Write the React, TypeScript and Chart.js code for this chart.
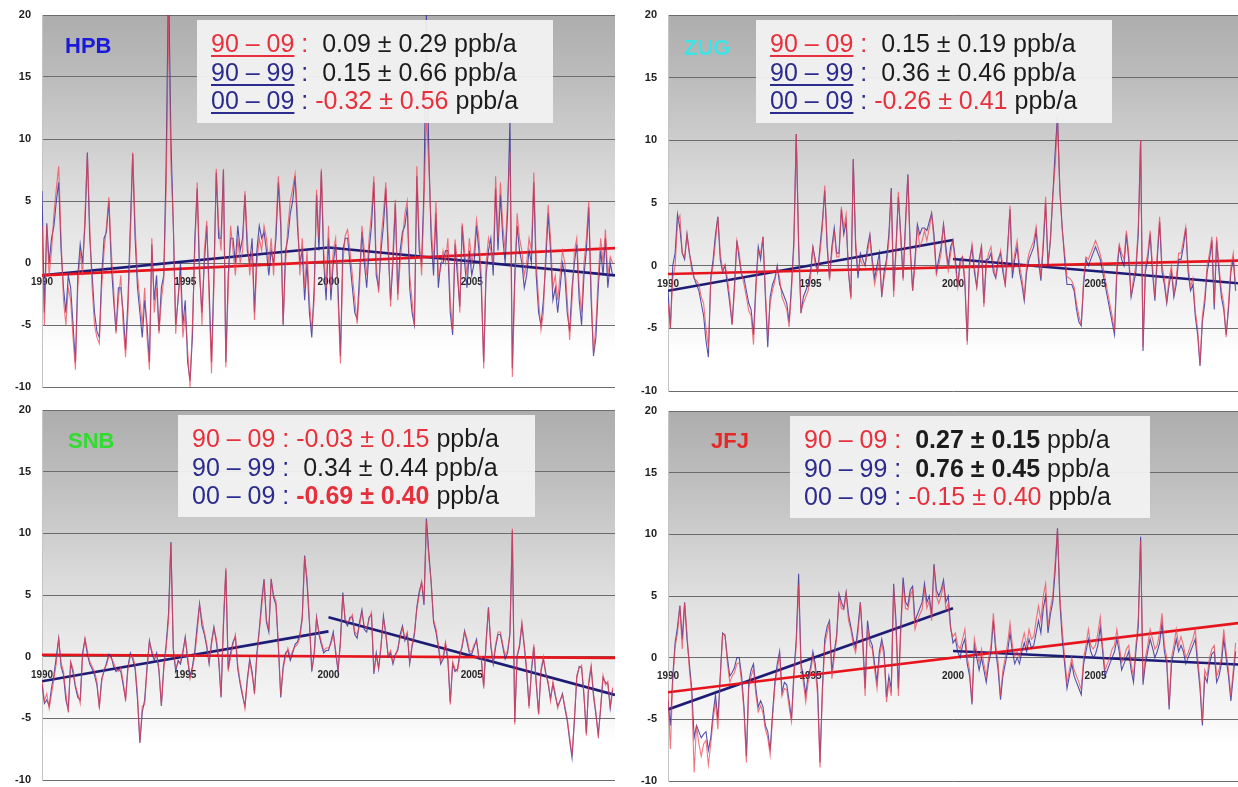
import React, { useEffect, useRef } from "react";
import { Chart, registerables } from "chart.js";

Chart.register(...registerables);

// ---------- data: monthly anomalies (ppb), Jan 1990 .. Dec 2009 ----------
const START_YEAR = 1990;
const END_YEAR = 2010;
const SPLIT_YEAR = 2000;
const X_TICK_YEARS = [1990, 1995, 2000, 2005];
const Y_MIN = -10;
const Y_MAX = 20;
const Y_STEP = 5;

const HPB_RED = [
  3, -5, 3, -1, 1, 4, 6, 7.8, 2, -3, -5, -2,
  -3, -6, -8.6, -2, 1, -1, 4, 8.8, 3, -2, -5, -6,
  -6.5, -2, 1, 3, 5.3, 1, -2, -5.7, -3, -1, -5, -7.6,
  -4, 2, 8.9, 3, -1, -3, -5, -2, -6, -8.6, 2, -4,
  -2, -5.7, -3, -1.3, 6, 20, 8, 3.2, -5.7, -2.7, -1, -6,
  -4, -7, -10, -5, 1, 6.5, 0, -5, 1, 3.4, -3, -8.9,
  -2, 7.6, 3, 1, 7.6, -8.4, -2, 3, 1, -1, 2, 0,
  1, 5.8, 2, -1, 1, -4.6, 0, 2, 1, 3, 2, 0,
  2, -1, 3, 7, 4, -4.9, 0, 3, 5, 6, 7.2, 4,
  -1, 2, -2, 1, -3, -5.4, -3, 5.9, 2, 7.6, 1, -2,
  3, -2.2, 1, 2, -3, -8.1, 0, 2.2, 2.7, 1, -1, -3,
  -4.9, -2, 3, 1, -1, 2, 4, 7, 0, -2.4, 2, 4,
  6.5, 2, -3.5, 1, 5.1, -3, 0, 2, 4, 5, -1, -3,
  -5.1, 7.8, 2, -1, 5, 12, 8, 3, 0, 5, -1, -0.5,
  1, 0, 2, -3, -5.4, 1.9, 0, -4, 3.2, 1, -1, 2,
  0, 1, 3.5, 2, -1, -8.5, 0, 2, 1, 0, 7, 2,
  6.5, 3, 1, 5, 9, -9.2, -2, 4, 2, 1, -1, 0,
  2, 1, 7.3, 0, -3, -5.4, -4, 1, 4.7, 2, -2, -1,
  -3, -1, 1, 0, -3, -6.2, -3, 1, 2, -2, -4, 0,
  2, 5, -2, -7.3, -5, -1, 2, 0, 2.7, -1, 0.5, 0,
];
const HPB_BLUE = [
  5.8, -4, 3.2, 0, 2, 3, 5, 6.5, 1, -2, -4, -1,
  -2, -5, -8, -1, 1.5, 0, 3, 8.9, 2, -1, -4, -5.5,
  -6, -1, 2, 2.5, 5, 0, -3, -5.5, -2, -2, -4, -7,
  -3, 3, 8.8, 2, -2, -4, -6, -3, -5, -8, 1.5, -3,
  -1, -5.5, -2, -1, 8, 23, 10, 3, -5, -3, 0, -5,
  -3, -8, -9.5, -6, 2, 6, -1, -4, 0, 3, -2, -8,
  -1, 7.3, 2, 2, 7.5, -8, -1, 2, 2, 0, 3, 1,
  2, 5.5, 1, 0, 2, -4, 1, 3, 2, 2.5, 1, -1,
  1, 0, 2, 6.5, 3, -5, 1, 2, 4, 5, 7, 3,
  0, 1, -3, 0, -4, -6, -2, 5.5, 1, 7.4, 0, -3,
  2, -3, 0, 1.5, -2, -7.5, 1, 2, 2, 0, -2, -4,
  -4.5, -1, 2.5, 0, -2, 1, 3, 6.5, -1, -2, 1, 3,
  6, 1, -3, 0, 4.8, -2.5, 1, 2.5, 3, 4.5, -2, -4,
  -5, 7, 1, 0, 6, 20, 9, 2, -1, 4, -2, 0,
  0, 1, 1, -4, -5.8, 1.5, -1, -3.5, 3, 0, -2, 1,
  -1, 0, 3, 1, -2, -8, -1, 1, 2, -1, 6, 1,
  5.5, 2, 0, 4, 11.5, -8.5, -1, 3, 1, 0, -2, -1,
  1, 0, 6.5, -1, -4, -5, -3, 0, 4, 1, -3, -2,
  -4, -2, 0, -1, -4, -5.5, -2, 0, 1.5, -3, -5, -1,
  1, 4.5, -3, -7.5, -6, -2, 1, -1, 2, -2, 0, -1,
];

const ZUG_RED = [
  -3, -5, -1, 0, 3.5, 4, 1, 0.7, 2.5, 1, -0.4, -1,
  -1.2, -1.5, -2.5, -3, -5, -6.5, -1.2, 0, 2, 3.9, 1, -0.4,
  0.1, -1, -2.5, -4.7, -2, 2, 1, -0.7, -1.5, -2.5, -3.6, -4,
  -6.3, -2, 1.2, 1, 2.3, -2, -5.7, -3, -2, -1.2, -0.1, -1,
  -2.5, -3, -3.5, -4.9, -2, 1.5, 10.5, 2, -3.6, -3, -2.5, -2,
  -1, 1.6, 0, -0.4, 1, 3, 6.4, 2, -1.2, 1, 2.8, 0.7,
  0.7, 4.7, 3, 4.1, -0.5, -2.7, 8.4, 2, -0.4, 0.5, 0, 0.1,
  1, 2.3, 0, -1.5, -0.5, 0.4, -2.3, -1, 0.1, 2, 6, -2.5,
  1, 5.9, 2, -1.2, 3, 7.2, 1, -2, 0, 3.1, 1.5, 2,
  2.8, 2, 3, 4.1, 2, -0.7, 0, 1, 3.3, 1, -0.4, 1,
  2, 0, -1.7, 0, 0.7, -1, -6.3, 0, 1.7, 0, -1.7, 0,
  1.7, -3.3, 0, 1, 1.5, 0, -0.9, 0, 1.2, 0, -1.7, 1,
  4.8, -0.4, 1, 2, 0, -1, -2.5, 0, 1, 1.5, 2, 3.1,
  1, -0.9, 2, 5.5, 0.1, 2, 5.5, 8, 11.5, 6, 2.8, 1,
  -0.9, -1, -1.2, -1.7, -3, -4, -4.7, -1, 0.7, 0.5, 1, 1.5,
  2, 1.5, 0.9, 0.1, -1, -2, -3, -4, -5.2, 0, 1.7, 1,
  0.5, 2.8, 1, -2.5, -1, 0, 3, 10, -6.5, 0, 1, 2.8,
  0, -2.5, 1, 3.9, 0, -1, -2.8, -1, 0, -2.3, -1, 1,
  1, 2, 3.1, 0, -1.7, -1, -3.6, -5, -7.9, -4, -2.5, 0,
  1, 2.3, -3.1, 2.3, 0, -2, -3, -5.7, -3, -0.1, 1, -1.7,
];
const ZUG_BLUE = [
  -2, -5, 0, 1, 4.1, 3, 1, 0.5, 2.5, 1, 0, -1,
  -1.5, -2, -3, -4, -6, -7.3, -1, 0.5, 2.5, 3.9, 0.5, -0.5,
  0, -1.5, -3, -4.7, -1.5, 2, 0.5, -0.7, -1, -2, -3, -3.5,
  -5.5, -1.5, 1.5, 0.5, 2.3, -2.5, -6.5, -2.5, -1.5, -1, 0, -1.5,
  -2, -2.5, -3, -4.5, -1.5, 2, 10.5, 1.5, -3.8, -2.5, -2, -1.5,
  -0.5, 1.5, 0.5, -0.5, 1.5, 3.5, 6, 1.5, -1, 1.5, 3, 1,
  1, 4.5, 2.5, 3.5, -0.5, -2.5, 8.5, 1.5, -1, 1, 0.5, 0,
  1.5, 2.5, 0.5, -1, 0, 1, -2.5, -0.5, 0.5, 2.5, 6.2, -2,
  1.5, 5.5, 2.5, -1, 3.5, 7.3, 1.5, -2, 0.5, 3.3, 2.5, 3,
  3, 2.8, 3.5, 4.2, 2.5, -0.5, 0.5, 1.5, 3.3, 1.5, 0, 1.5,
  2, 0.5, -1.7, 0.5, 0.7, -1.5, -6, 0.5, 1.5, -0.5, -1.7, 0.5,
  1.5, -3, 0.5, 0.5, 1, -0.5, -1, 0.5, 1, -0.5, -1.5, 1.5,
  4.5, -1, 0.5, 1.5, -0.5, -1.5, -2.8, -0.5, 0.5, 1, 1.5, 2.8,
  0.5, -1.2, 1.5, 5, 0, 2, 5.5, 9, 12, 6, 3, 0.5,
  -1.5, -1.5, -1.5, -2, -3.5, -4.5, -4.8, -1.5, 0.5, 0, 0.5, 1,
  1.5, 1, 0.5, -0.5, -1.5, -2.5, -3.5, -4.5, -5.5, -0.5, 1.5, 0.5,
  0, 2.5, 0.5, -2.5, -1.5, -0.5, 2.5, 10, -6.8, -0.5, 0.5, 2.5,
  -0.5, -2.8, 0.5, 3.5, -0.5, -1.5, -3, -1.5, -0.5, -2.5, -1.5, 0.5,
  0.5, 1.5, 3, -0.5, -2, -1.5, -4, -5.5, -8, -4.5, -3, -0.5,
  0.5, 2, -3.5, 2, -0.5, -2.5, -3.5, -5.5, -3.5, -0.5, 0.5, -2,
];

const SNB_RED = [
  -2, -3.6, -3, -4.2, -3, -1.8, -0.5, 1.4, -0.5, -1.2, -3, -4.5,
  -0.4, -1, -2.3, -3, -3.8, 0, 1.5, 0.5, -0.4, -0.8, -1.2, -2,
  -4.2, -2, -1, -0.7, 0, -0.1, -0.5, -1, -1.2, -0.9, -2, -3.6,
  -1, 0.1, 0, -0.7, -3, -6.9, -4, -3.9, -1, 1.2, 0.5, 0,
  0.1, -1, -3.9, -1, 0.7, 3, 9.2, 0.7, -0.9, -0.5, -0.4, 0.5,
  1.5, 0, -1.8, -1, 0.1, 2, 4.2, 3, 2, 1, -0.4, 1,
  2.3, 1.5, 0, -3.2, 3, 7.2, -1.2, 0, 1, 1.8, -0.7, -2,
  -3, -4.2, -2, -0.4, -1.5, -2.8, 0, 2, 4, 6.2, 3, 2.3,
  6.1, 5, 4.5, 1, -3.1, -1, 0, 0.7, 0, 0.5, 0.8, 1,
  1.5, 3, 8.1, 6.4, 3, -1, 0, 3.1, 2, 1.2, 0.5, 0.7,
  0.7, 1, 1.8, 0.5, -1, 1, 5, 3, 2.8, 3, 3.4, 2,
  1.8, 2.5, 3.6, 2.5, 2.3, 3, 3.6, -1.2, 0, -0.9, 1, 3.1,
  2, 0.1, 0.5, -0.4, 0, 0.7, 1.5, 2.3, 1.5, 2, -0.4, 1,
  2, 3.9, 5, 6.1, 4.5, 11, 8, 6.1, 3, 2.3, 1, -0.4,
  0, 1.2, 0, -3.9, -0.4, -1, -1.2, 0, 1, 2, 1.5, 0.5,
  0.4, 1, 1.2, 0, 0, -2.6, 1, 3.9, 1, -0.4, 1, 2,
  2, 1, 0.1, 0.5, 2, 10.4, -5.5, 0.1, 1, 2.8, 1, -1,
  -4.2, -1, 1, -2, -4.7, -1, 0, -1.5, -2, -3.6, -2, -3,
  -4.2, -3.5, -3.1, -4, -5, -6.5, -8, -5, -1.5, -0.9, -0.7, -3,
  -6.4, -2, -0.7, -3, -4.5, -6.6, -4, -1.5, -2.3, -2, -4, -2.5,
];
const SNB_BLUE = [
  -2.2, -3.8, -3.5, -4, -2.5, -1.5, 0, 1.5, -0.8, -1.5, -3.5, -4.3,
  -0.5, -1.3, -2.5, -3.3, -3.5, 0.3, 1.4, 0.2, -0.6, -1, -1.5, -2.3,
  -4, -1.8, -1.2, -0.5, 0.2, 0, -0.8, -1.2, -1, -1.2, -2.3, -3.4,
  -0.8, 0.3, -0.2, -1, -3.5, -7, -4.5, -3.5, -0.8, 1.3, 0.3, -0.3,
  0.3, -1.2, -4, -0.8, 1, 3.5, 9.3, 0.5, -1.2, -0.3, -0.6, 0.3,
  1.6, -0.3, -1.6, -0.8, 0.5, 2.5, 4.3, 2.5, 1.8, 0.8, -0.6, 1.2,
  2.4, 1.2, -0.3, -3.3, 2.5, 7, -1, 0.3, 1.2, 1.6, -1, -2.2,
  -3.2, -4, -1.8, -0.2, -1.2, -3, 0.3, 2.2, 4.5, 6.3, 2.8, 2,
  6.3, 4.8, 4.2, 0.8, -3.3, -0.8, 0.3, 0.5, -0.3, 0.3, 1, 1.2,
  1.8, 3.2, 8.2, 6, 2.8, -1.2, 0.3, 3.2, 1.8, 1, 0.3, 0.5,
  0.5, 1.2, 2, 0.3, -1.2, 1.3, 5.2, 2.8, 2.5, 3.2, 3.2, 1.8,
  1.5, 2.8, 3.8, 2.2, 2, 3.2, 3.4, -1.4, 0.3, -1, 0.8, 3.3,
  1.8, 0, 0.3, -0.6, 0.2, 0.5, 1.8, 2.5, 1.3, 1.8, -0.6, 0.8,
  1.8, 4, 5.3, 6, 4.2, 11.2, 8.5, 6, 2.8, 2, 0.8, -0.6,
  -0.2, 1, -0.3, -3.7, -0.6, -1.2, -1, 0.2, 0.8, 2.1, 1.2, 0.3,
  0.2, 0.8, 1.4, -0.2, -0.2, -2.4, 1.2, 4, 0.8, -0.6, 0.8, 1.8,
  1.8, 0.8, -0.2, 0.3, 1.8, 10.2, -5.3, 0, 0.8, 2.6, 0.8, -1.2,
  -4, -1.2, 0.8, -2.2, -4.6, -1.2, -0.2, -1.3, -2.2, -3.4, -2.2, -3.2,
  -4, -3.6, -3, -4.2, -5.2, -6.8, -8.2, -5.2, -1.7, -0.8, -0.9, -3.2,
  -6.2, -2.2, -0.9, -3.2, -4.7, -6.3, -4.2, -1.7, -2.1, -2.2, -4.2, -2.7,
];

const JFJ_RED = [
  -2.8, -7.4, -2, 0.9, 2, 4.2, 0.7, 4.4, 2, -1, -3, -9.3,
  -5.5, -7, -8, -7, -6.7, -8.7, -7, -5, -3.6, -5.8, -1.7, 1.9,
  1.9, -0.4, -2, -1.5, -1.2, -0.5, -0.4, -2, -4.4, -8.5, -2.5, -1.5,
  -0.9, -3, -4.4, -3.9, -4.5, -5.8, -6.5, -7.9, -5, -2.3, -1, 0.3,
  -3.1, -2.5, -2.6, -4, -5.2, -1.7, 1, 5.9, -1, -2, -3.6, -2,
  -1.2, 0.1, -1, -3.1, -8.9, -3, 1, 2, 2.8, -1.7, 0, 1.5,
  5, 4, 3.9, 5.2, 3, 2.3, 1, 0.4, 2, 4.4, 1, -3.1,
  2.5, 1, 0.7, -1, -2.5, 0, 1.2, 0, -3.6, -2, -3.1, 5.8,
  2.3, -3.1, 2, 6, 4, 3.9, 5, 5.5, 2.3, 3, 3.5, 3.9,
  5.5, 4, 4.6, 3, 7.4, 5, 4.4, 5, 6, 3.9, 4.4, 2.3,
  1.7, 2, 1, 0.7, 1.5, 2.3, 0, -1, -3.6, 1.5, 0.5, -0.4,
  0.7, -0.5, -1.5, 0, 1, 3.6, 1, -0.4, -3.1, -1, 0, 1.2,
  2.8, 1, 0.1, 0.5, 0, 1.2, 2, 1, 2.3, 1.5, 1.7, 3,
  4.2, 3, 5, 6, 2.5, 4, 5, 7.7, 10.4, 5, 2.3, 0,
  -2, -1, 0, -1, -1.5, -2, -2.6, 0, 1, 2.3, 1, 0.7,
  1, 2, 3.3, 1, -1, -0.5, 0, 0.7, 1, 2.3, 1, -0.4,
  0, 0.7, 1, -0.5, -1.5, 1, 3, 9.5, -1.7, 0, 1, 2.3,
  1.5, 0.7, 1, 2, 3.6, 1, 0, -3.9, 0, 1, 2.3, 1,
  1.7, 1, 0, 0.4, 1, 1.5, 2.3, 0, -2, -5.2, -1, -1.5,
  0, 0.7, 1, -1.5, -1, 0, 2.3, 0.5, -1, -3.1, -1, 1.2,
];
const JFJ_BLUE = [
  -3.5, -5.5, -1.5, 1.2, 2.5, 4.2, 1.5, 4.5, 1.5, -0.5, -2.5, -6.5,
  -5.5, -6, -6.5, -6.2, -6, -7.5, -6.5, -4.5, -3, -5, -1.5, 2,
  1.8, 0, -1.5, -1.2, -0.8, 0, 0, -1.5, -4, -8, -2, -1,
  -0.5, -2.5, -4, -3.5, -4, -5.5, -6, -7.5, -4.5, -2, -0.5, 0.5,
  -2.8, -2, -2.2, -3.5, -5, -1.2, 1.5, 6.8, -0.5, -1.5, -3, -1.5,
  -0.8, 0.5, -0.5, -2.5, -8.5, -2.5, 1.5, 2.5, 3, -1.2, 0.5, 1.8,
  5.2, 4.5, 4, 5.3, 3.5, 2.5, 1.5, 0.8, 2.5, 4.5, 1.5, -2.5,
  3, 1.5, 1, -0.5, -2, 0.5, 1.5, 0.5, -3.2, -1.5, -2.5, 6,
  3, -2.5, 2.5, 6.5, 4.5, 4.2, 5.5, 5.8, 3, 3.5, 4, 4.5,
  6, 4.5, 5, 3.5, 7.6, 5.5, 5, 5.5, 6.3, 4.5, 5, 2.5,
  1.2, 1.5, 0.5, 0, 1, 1.5, -0.5, -1.5, -3.8, 1, 0, -1,
  0, -1, -2, -0.5, 0.5, 3, 0.5, -1, -3.4, -1.5, -0.5, 0.5,
  2, 0.5, -0.5, 0, -0.5, 0.5, 1.2, 0.5, 1.5, 0.8, 1, 2,
  3, 2, 4, 5, 2, 3.5, 4.5, 7, 10.5, 4.5, 1.5, -0.5,
  -2.5, -1.5, -0.5, -1.5, -2, -2.5, -3, -0.5, 0.5, 1.5, 0.5, 0,
  0.3, 1, 2.5, 0.5, -1.5, -1, -0.5, 0, 0.5, 1.5, 0.5, -1,
  -0.5, 0, 0.5, -1, -2, 0.5, 2.5, 9.8, -2.2, -0.5, 0.5, 1.5,
  0.8, 0, 0.5, 1.2, 2.8, 0.5, -0.5, -4.2, -0.5, 0.5, 1.5, 0.5,
  1, 0.5, -0.5, 0, 0.5, 1, 1.5, -0.5, -2.5, -5.5, -1.5, -2,
  -0.5, 0.3, 0.5, -2, -1.5, -0.5, 1.5, 0, -1.5, -3.5, -1.5, 0.5,
];

// trend lines: [value at start, value at end]
const HPB_TREND_ALL = [-1.0, 1.2];
const HPB_TREND_90S = [-1.0, 1.25];
const HPB_TREND_00S = [1.25, -1.0];
const ZUG_TREND_ALL = [-0.67, 0.4];
const ZUG_TREND_90S = [-2.0, 2.05];
const ZUG_TREND_00S = [0.53, -1.4];
const SNB_TREND_ALL = [0.15, -0.1];
const SNB_TREND_90S = [-2.0, 2.05];
const SNB_TREND_00S = [3.2, -3.1];
const JFJ_TREND_ALL = [-2.8, 2.8];
const JFJ_TREND_90S = [-4.2, 4.0];
const JFJ_TREND_00S = [0.54, -0.55];

// ---------- styling ----------
const FONT = '"Liberation Sans", Arial, Helvetica, sans-serif';
const C_RED_TXT = "#e8303c";
const C_BLUE_TXT = "#2b2b8e";
const C_BLACK_TXT = "#1c1c1c";

const bgPlugin = {
  id: "panelBg",
  beforeDraw(chart: any) {
    const { ctx, chartArea: a } = chart;
    if (!a) return;
    const g = ctx.createLinearGradient(0, a.top, 0, a.bottom);
    g.addColorStop(0, "#adadad");
    g.addColorStop(0.17, "#bcbcbc");
    g.addColorStop(0.34, "#cecece");
    g.addColorStop(0.5, "#dfdfdf");
    g.addColorStop(0.67, "#ececec");
    g.addColorStop(0.83, "#f7f7f7");
    g.addColorStop(0.9, "#ffffff");
    g.addColorStop(1, "#ffffff");
    ctx.save();
    ctx.fillStyle = g;
    ctx.fillRect(a.left, a.top, a.right - a.left, a.bottom - a.top);
    ctx.restore();
  },
};

type PanelSpec = {
  left: number;
  top: number;
  width: number;
  height: number;
  axisW: number;
  pad: { top: number; right: number; bottom: number; left: number };
  red: number[];
  blue: number[];
  trendAll: number[];
  trend90: number[];
  trend00: number[];
};

function toPoints(arr: number[]) {
  return arr.map((v, i) => ({ x: START_YEAR + i / 12, y: v }));
}

function zeroPadding(scale: any) {
  scale.paddingTop = 0;
  scale.paddingBottom = 0;
  scale.paddingLeft = 0;
  scale.paddingRight = 0;
}

function Panel({ spec }: { spec: PanelSpec }) {
  const ref = useRef<HTMLCanvasElement | null>(null);
  useEffect(() => {
    if (!ref.current) return;
    const tickFont = { family: FONT, size: 11, weight: "bold" as const };
    const chart = new Chart(ref.current, {
      type: "line",
      data: {
        datasets: [
          {
            data: toPoints(spec.red),
            borderColor: "rgba(240,64,80,0.72)",
            borderWidth: 1.1,
            pointRadius: 0,
            tension: 0,
          },
          {
            data: toPoints(spec.blue),
            borderColor: "rgba(46,40,148,0.8)",
            borderWidth: 1.1,
            pointRadius: 0,
            tension: 0,
          },
          {
            data: [
              { x: START_YEAR, y: spec.trendAll[0] },
              { x: END_YEAR, y: spec.trendAll[1] },
            ],
            borderColor: "#e8141c",
            borderWidth: 2.6,
            pointRadius: 0,
          },
          {
            data: [
              { x: START_YEAR, y: spec.trend90[0] },
              { x: SPLIT_YEAR, y: spec.trend90[1] },
            ],
            borderColor: "#1c1c76",
            borderWidth: 2.6,
            pointRadius: 0,
          },
          {
            data: [
              { x: SPLIT_YEAR, y: spec.trend00[0] },
              { x: END_YEAR, y: spec.trend00[1] },
            ],
            borderColor: "#1c1c76",
            borderWidth: 2.6,
            pointRadius: 0,
          },
        ],
      },
      options: {
        animation: false,
        responsive: false,
        maintainAspectRatio: false,
        layout: { padding: spec.pad },
        plugins: { legend: { display: false }, tooltip: { enabled: false } },
        scales: {
          x: {
            type: "linear",
            min: START_YEAR,
            max: END_YEAR,
            position: { y: 0 } as any,
            grid: { display: false, drawTicks: false },
            border: { display: false },
            afterBuildTicks: (scale: any) => {
              scale.ticks = X_TICK_YEARS.map((v) => ({ value: v }));
            },
            afterFit: zeroPadding,
            ticks: {
              autoSkip: false,
              maxRotation: 0,
              padding: 13,
              color: "#262626",
              font: { family: FONT, size: 10, weight: "bold" as const },
              callback: (v: any) => String(v),
            },
          },
          y: {
            min: Y_MIN,
            max: Y_MAX,
            afterFit: (scale: any) => {
              scale.width = spec.axisW;
              zeroPadding(scale);
            },
            ticks: {
              stepSize: Y_STEP,
              padding: 11,
              color: "#1e1e1e",
              font: tickFont,
            },
            grid: { color: "#6c6c6c", lineWidth: 1, drawTicks: false },
            border: { display: true, color: "#c4c4c4", width: 1 },
          },
        },
      },
      plugins: [bgPlugin],
    } as any);
    return () => chart.destroy();
  }, [spec]);
  return (
    <div
      style={{
        position: "absolute",
        left: spec.left,
        top: spec.top,
        width: spec.width,
        height: spec.height,
      }}
    >
      <canvas ref={ref} width={spec.width} height={spec.height} style={{ width: spec.width, height: spec.height, display: "block" }} />
    </div>
  );
}

type Seg = { t: string; c: string; b?: boolean; u?: boolean };

function Box({ left, top, width, height, lines }: { left: number; top: number; width: number; height: number; lines: Seg[][] }) {
  return (
    <div
      style={{
        position: "absolute",
        left,
        top,
        width,
        height,
        background: "rgba(243,243,243,0.93)",
        boxSizing: "border-box",
        paddingTop: 9,
        paddingLeft: 14,
        fontFamily: FONT,
        fontSize: 25,
        lineHeight: "28.5px",
        whiteSpace: "pre",
      }}
    >
      {lines.map((ln, i) => (
        <div key={i}>
          {ln.map((s, j) => (
            <span
              key={j}
              style={{
                color: s.c,
                fontWeight: s.b ? "bold" : "normal",
                textDecoration: s.u ? "underline" : "none",
                textDecorationThickness: s.u ? "2px" : undefined,
                textUnderlineOffset: s.u ? "3px" : undefined,
              }}
            >
              {s.t}
            </span>
          ))}
        </div>
      ))}
    </div>
  );
}

function Station({ text, color, left, top }: { text: string; color: string; left: number; top: number }) {
  return (
    <div
      style={{
        position: "absolute",
        left,
        top,
        fontFamily: FONT,
        fontWeight: "bold",
        fontSize: 22,
        lineHeight: 1,
        color,
      }}
    >
      {text}
    </div>
  );
}

const PANELS: PanelSpec[] = [
  { left: 0, top: 0, width: 620, height: 395, axisW: 42, pad: { top: 15, right: 5, bottom: 8, left: 0 }, red: HPB_RED, blue: HPB_BLUE, trendAll: HPB_TREND_ALL, trend90: HPB_TREND_90S, trend00: HPB_TREND_00S },
  { left: 620, top: 0, width: 618, height: 395, axisW: 48, pad: { top: 15, right: 0, bottom: 4, left: 0 }, red: ZUG_RED, blue: ZUG_BLUE, trendAll: ZUG_TREND_ALL, trend90: ZUG_TREND_90S, trend00: ZUG_TREND_00S },
  { left: 0, top: 395, width: 620, height: 392, axisW: 42, pad: { top: 15, right: 5, bottom: 7, left: 0 }, red: SNB_RED, blue: SNB_BLUE, trendAll: SNB_TREND_ALL, trend90: SNB_TREND_90S, trend00: SNB_TREND_00S },
  { left: 620, top: 395, width: 618, height: 392, axisW: 48, pad: { top: 16, right: 0, bottom: 6, left: 0 }, red: JFJ_RED, blue: JFJ_BLUE, trendAll: JFJ_TREND_ALL, trend90: JFJ_TREND_90S, trend00: JFJ_TREND_00S },
];

export default function App() {
  const R = C_RED_TXT;
  const B = C_BLUE_TXT;
  const K = C_BLACK_TXT;
  return (
    <div style={{ position: "fixed", left: 0, top: 0, width: 1238, height: 787, overflow: "hidden", background: "#ffffff" }}>
      {PANELS.map((p, i) => (
        <Panel key={i} spec={p} />
      ))}

      <Station text="HPB" color="#1a1ad8" left={65} top={35} />
      <Station text="ZUG" color="#3fe3e3" left={684} top={37} />
      <Station text="SNB" color="#2fdc2f" left={68} top={430} />
      <Station text="JFJ" color="#e42828" left={711} top={430} />

      <Box
        left={197}
        top={20}
        width={356}
        height={103}
        lines={[
          [{ t: "90 – 09", c: R, u: true }, { t: " :  ", c: R }, { t: "0.09 ± 0.29 ppb/a", c: K }],
          [{ t: "90 – 99", c: B, u: true }, { t: " :  ", c: B }, { t: "0.15 ± 0.66 ppb/a", c: K }],
          [{ t: "00 – 09", c: B, u: true }, { t: " : ", c: B }, { t: "-0.32 ± 0.56", c: R }, { t: " ppb/a", c: K }],
        ]}
      />
      <Box
        left={756}
        top={20}
        width={356}
        height={103}
        lines={[
          [{ t: "90 – 09", c: R, u: true }, { t: " :  ", c: R }, { t: "0.15 ± 0.19 ppb/a", c: K }],
          [{ t: "90 – 99", c: B, u: true }, { t: " :  ", c: B }, { t: "0.36 ± 0.46 ppb/a", c: K }],
          [{ t: "00 – 09", c: B, u: true }, { t: " : ", c: B }, { t: "-0.26 ± 0.41", c: R }, { t: " ppb/a", c: K }],
        ]}
      />
      <Box
        left={178}
        top={415}
        width={357}
        height={102}
        lines={[
          [{ t: "90 – 09 : -0.03 ± 0.15", c: R }, { t: " ppb/a", c: K }],
          [{ t: "90 – 99 :  ", c: B }, { t: "0.34 ± 0.44 ppb/a", c: K }],
          [{ t: "00 – 09 : ", c: B }, { t: "-0.69 ± 0.40", c: R, b: true }, { t: " ppb/a", c: K }],
        ]}
      />
      <Box
        left={790}
        top={416}
        width={360}
        height={102}
        lines={[
          [{ t: "90 – 09 :  ", c: R }, { t: "0.27 ± 0.15", c: K, b: true }, { t: " ppb/a", c: K }],
          [{ t: "90 – 99 :  ", c: B }, { t: "0.76 ± 0.45", c: K, b: true }, { t: " ppb/a", c: K }],
          [{ t: "00 – 09 : ", c: B }, { t: "-0.15 ± 0.40", c: R }, { t: " ppb/a", c: K }],
        ]}
      />
    </div>
  );
}
